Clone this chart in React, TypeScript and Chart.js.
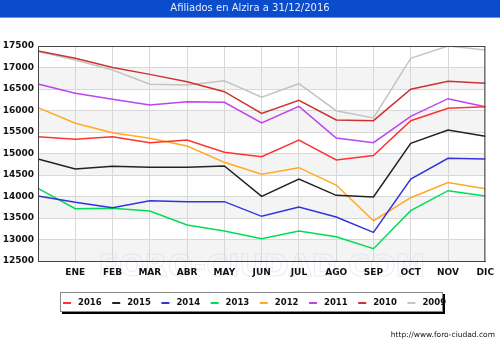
import React, { useEffect, useRef } from "react";
import { Chart, registerables } from "chart.js";

Chart.register(...registerables);

const TITLE = "Afiliados en Alzira a 31/12/2016";
const FOOTER = "http://www.foro-ciudad.com";
const categories = ["", "ENE", "FEB", "MAR", "ABR", "MAY", "JUN", "JUL", "AGO", "SEP", "OCT", "NOV", "DIC"];
const yTicks = [12500, 13000, 13500, 14000, 14500, 15000, 15500, 16000, 16500, 17000, 17500];

const seriesNames = ["2016", "2015", "2014", "2013", "2012", "2011", "2010", "2009"];
const seriesColors = ["#ff3333", "#222222", "#3333dd", "#00dd55", "#ffaa22", "#bb44ee", "#cc3333", "#c4c4c4"];

const s2016 = [15391, 15330, 15391, 15251, 15314, 15028, 14926, 15314, 14849, 14951, 15763, 16051, 16089];
const s2015 = [14872, 14640, 14702, 14679, 14679, 14709, 14004, 14407, 14027, 13988, 15237, 15547, 15400];
const s2014 = [14012, 13865, 13740, 13903, 13880, 13880, 13539, 13756, 13523, 13167, 14407, 14888, 14872];
const s2013 = [14190, 13717, 13725, 13663, 13337, 13198, 13019, 13198, 13066, 12786, 13670, 14135, 14012];
const s2012 = [16066, 15702, 15484, 15353, 15174, 14795, 14516, 14670, 14267, 13437, 13972, 14326, 14182];
const s2011 = [16616, 16400, 16260, 16128, 16205, 16190, 15709, 16097, 15360, 15251, 15865, 16275, 16089];
const s2010 = [17384, 17213, 17000, 16840, 16670, 16437, 15934, 16237, 15779, 15763, 16493, 16679, 16632];
const s2009 = [17370, 17174, 16942, 16609, 16593, 16693, 16307, 16623, 15996, 15826, 17213, 17500, 17407];

const seriesData = [s2016, s2015, s2014, s2013, s2012, s2011, s2010, s2009];

const FONT = "'DejaVu Sans', sans-serif";

const decorPlugin = {
  id: "decor",
  beforeDraw(chart: any) {
    const { ctx, chartArea } = chart;
    const y = chart.scales.y;
    ctx.save();
    // alternating bands
    ctx.fillStyle = "#f4f4f4";
    for (let v = 12500; v < 17500; v += 1000) {
      const y1 = y.getPixelForValue(v);
      const y2 = y.getPixelForValue(v + 500);
      ctx.fillRect(chartArea.left, y2, chartArea.right - chartArea.left, y1 - y2);
    }
    // watermark
    ctx.strokeStyle = "rgba(215,220,235,0.55)";
    ctx.lineWidth = 1;
    ctx.font = `bold 30px ${FONT}`;
    ctx.textAlign = "center";
    ctx.textBaseline = "middle";
    ctx.strokeText("FORO-CIUDAD.COM", 262, 268);
    ctx.restore();
  },
  afterDraw(chart: any) {
    const { ctx, chartArea, width } = chart;
    ctx.save();
    // border frame
    ctx.strokeStyle = "#444";
    ctx.lineWidth = 1;
    ctx.strokeRect(chartArea.left + 0.5, chartArea.top + 0.5, chartArea.right - chartArea.left - 1, chartArea.bottom - chartArea.top);
    // title bar
    ctx.fillStyle = "#0a4ccc";
    ctx.fillRect(0, 0, width, 17);
    ctx.fillStyle = "#6f93e0";
    ctx.fillRect(0, 17, width, 1);
    ctx.fillStyle = "#e6ecff";
    ctx.font = `10px ${FONT}`;
    ctx.textAlign = "center";
    ctx.textBaseline = "middle";
    ctx.fillText(TITLE, width / 2, 8.5);
    // legend box
    const lx = 60, ly = 292, lw = 383, lh = 20;
    ctx.fillStyle = "#000";
    ctx.fillRect(lx + 2, ly + 2, lw, lh);
    ctx.fillStyle = "#fff";
    ctx.fillRect(lx, ly, lw, lh);
    ctx.strokeStyle = "#888";
    ctx.strokeRect(lx + 0.5, ly + 0.5, lw - 1, lh - 1);
    ctx.font = `bold 8.5px ${FONT}`;
    ctx.textAlign = "left";
    ctx.textBaseline = "middle";
    seriesNames.forEach((n, i) => {
      const x = 63 + i * 49.2;
      ctx.strokeStyle = seriesColors[i];
      ctx.lineWidth = 2;
      ctx.beginPath();
      ctx.moveTo(x, ly + 11);
      ctx.lineTo(x + 8, ly + 11);
      ctx.stroke();
      ctx.fillStyle = "#111";
      ctx.fillText(n, x + 15, ly + 10.5);
    });
    // footer
    ctx.fillStyle = "#111";
    ctx.font = `7.5px ${FONT}`;
    ctx.textAlign = "right";
    ctx.fillText(FOOTER, 495, 335);
    ctx.restore();
  },
};

export default function App() {
  const ref = useRef<HTMLCanvasElement>(null);
  useEffect(() => {
    const chart = new Chart(ref.current!, {
      type: "line",
      data: {
        labels: categories,
        datasets: seriesNames.map((n, i) => ({
          label: n,
          data: seriesData[i],
          borderColor: seriesColors[i],
          backgroundColor: seriesColors[i],
          borderWidth: 1.5,
          pointRadius: 0,
          tension: 0,
        })),
      },
      options: {
        animation: false,
        responsive: false,
        layout: { padding: { left: 0, right: 12, top: 46, bottom: 53 } },
        plugins: { legend: { display: false }, tooltip: { enabled: false } },
        scales: {
          x: {
            grid: { color: "#d8d8d8", drawTicks: false },
            border: { color: "#444" },
            ticks: { color: "#111", font: { family: FONT, size: 9, weight: "bold" }, padding: 6, maxRotation: 0, autoSkip: false },
            afterFit: (s: any) => { s.height = 30; },
          },
          y: {
            min: 12500,
            max: 17500,
            grid: { color: "#d8d8d8", drawTicks: false },
            border: { color: "#444" },
            afterBuildTicks: (s: any) => { s.ticks = yTicks.map((v) => ({ value: v })); },
            ticks: {
              color: "#111",
              font: { family: FONT, size: 9, weight: "bold" },
              padding: 4,
              callback: (v: any) => String(v),
            },
            afterFit: (s: any) => { s.width = 38; },
          },
        },
      },
      plugins: [decorPlugin],
    });
    return () => chart.destroy();
  }, []);
  return (
    <div style={{ position: "absolute", left: 0, top: 0, width: 500, height: 344, background: "#fff" }}>
      <canvas ref={ref} width={500} height={344} style={{ width: 500, height: 344 }} />
    </div>
  );
}
